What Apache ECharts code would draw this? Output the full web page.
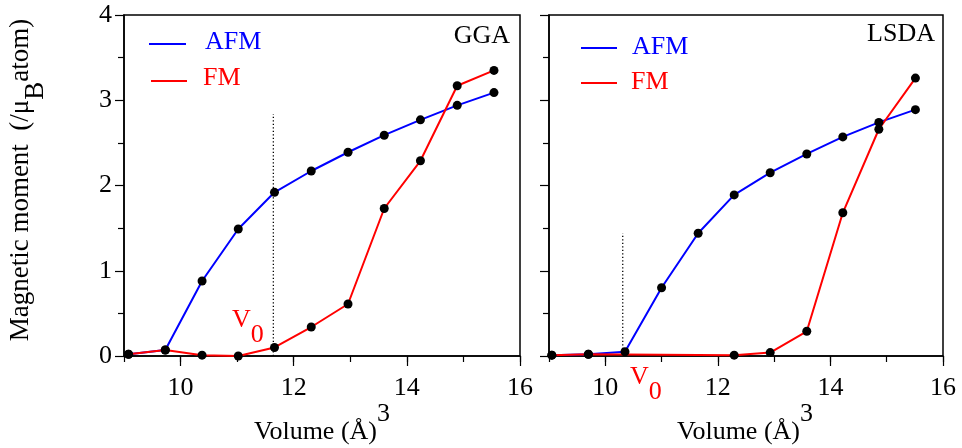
<!DOCTYPE html>
<html>
<head>
<meta charset="utf-8">
<script src="https://cdn.jsdelivr.net/npm/echarts@6/dist/echarts.min.js"></script>
<style>html,body{margin:0;padding:0;background:#fff;}#c{width:962px;height:448px;}</style>
</head>
<body>
<div id="c"></div>
<script>
// ---- data ----
const leftVolume  = [9.08, 9.73, 10.38, 11.02, 11.66, 12.31, 12.96, 13.60, 14.24, 14.89, 15.54];
const leftAFM     = [0.02, 0.07, 0.88, 1.49, 1.92, 2.17, 2.39, 2.59, 2.77, 2.94, 3.09];
const leftFM      = [0.02, 0.07, 0.01, 0.00, 0.10, 0.34, 0.61, 1.73, 2.29, 3.17, 3.35];
const rightVolume = [9.05, 9.70, 10.35, 11.00, 11.65, 12.29, 12.93, 13.58, 14.22, 14.86, 15.51];
const rightAFM    = [0.01, 0.02, 0.05, 0.80, 1.44, 1.89, 2.15, 2.37, 2.57, 2.74, 2.89];
const rightFM     = [0.01, 0.02, null, null, null, 0.01, 0.04, 0.29, 1.68, 2.66, 3.26];
const leftV0  = [11.64, 2.84];   // volume, top of dotted line
const rightV0 = [10.31, 1.44];
const xTickLabels = [10, 12, 14, 16];
const panelTitles = ['GGA', 'LSDA'];
const seriesNames = ['AFM', 'FM'];

const FONT = '"Liberation Serif", "Times New Roman", serif';
const BLUE = '#0000ff', RED = '#ff0000';

const pairs = (xs, ys) => xs.map((x, i) => [x, ys[i]]);

function xMain(g) {
  return {
    type: 'value', gridIndex: g, min: 9, max: 16, interval: 1, position: 'bottom',
    axisLine: { show: true, onZero: false, lineStyle: { color: '#000', width: 1.5 } },
    axisTick: { show: true, inside: false, length: 10, customValues: xTickLabels, lineStyle: { color: '#000', width: 1.2 } },
    axisLabel: { show: true, customValues: xTickLabels, margin: 19, fontSize: 26, fontFamily: FONT, color: '#000' },
    splitLine: { show: false }
  };
}
function xMinor(g) {
  return {
    type: 'value', gridIndex: g, min: 9, max: 16, interval: 1, position: 'bottom',
    axisLine: { show: false },
    axisTick: { show: true, inside: false, length: 6, lineStyle: { color: '#000', width: 1.2 } },
    axisLabel: { show: false },
    splitLine: { show: false }
  };
}
function yAx(g, labels) {
  return {
    type: 'value', gridIndex: g, min: 0, max: 4, interval: 1,
    axisLine: { show: true, onZero: false, lineStyle: { color: '#000', width: 1.5 } },
    axisTick: { show: true, inside: false, length: 9, lineStyle: { color: '#000', width: 1.2 } },
    minorTick: { show: true, splitNumber: 2, length: 6, lineStyle: { color: '#000', width: 1.2 } },
    axisLabel: { show: labels, margin: 12, fontSize: 26, fontFamily: FONT, color: '#000' },
    splitLine: { show: false }
  };
}
function dataSeries(name, xi, yi, data, color) {
  return {
    type: 'line', name: name, xAxisIndex: xi, yAxisIndex: yi, data: data,
    connectNulls: true, symbol: 'circle', symbolSize: 9, silent: true,
    lineStyle: { color: color, width: 2 }, itemStyle: { color: '#000' },
    emphasis: { disabled: true }, z: 3
  };
}
function v0Series(xi, yi, v) {
  return {
    type: 'line', xAxisIndex: xi, yAxisIndex: yi, data: [[v[0], 0], [v[0], v[1]]],
    symbol: 'none', silent: true, lineStyle: { color: '#000', width: 1.3, type: [1.3, 2.2] }, z: 2
  };
}
function txt(x, y, text, opts) {
  return { type: 'text', x: x, y: y, silent: true,
    style: Object.assign({ text: text, fontSize: 26, fontFamily: FONT, fill: '#000' }, opts || {}) };
}
function seg(x1, x2, y, color) {
  return { type: 'line', silent: true, shape: { x1: x1, y1: y, x2: x2, y2: y }, style: { stroke: color, lineWidth: 2 } };
}

const subRich = {
  n: { fontSize: 27, fontFamily: FONT, fill: '#000', lineHeight: 30, verticalAlign: 'top' },
  s: { fontSize: 27, fontFamily: FONT, fill: '#000', lineHeight: 42, verticalAlign: 'bottom' }
};
const supRich = {
  n: { fontSize: 26, fontFamily: FONT, fill: '#000', lineHeight: 30, verticalAlign: 'bottom' },
  s: { fontSize: 26, fontFamily: FONT, fill: '#000', lineHeight: 44, verticalAlign: 'top' }
};
const v0Rich = {
  v: { fontSize: 26, fontFamily: FONT, fill: RED, lineHeight: 28, verticalAlign: 'top' },
  s: { fontSize: 26, fontFamily: FONT, fill: RED, lineHeight: 41, verticalAlign: 'bottom' }
};

const yTitle = txt(28, 180, '{n|Magnetic moment  (/μ}{s|B}{n|atom)}', { rich: subRich, align: 'center', verticalAlign: 'middle' });
yTitle.rotation = Math.PI / 2;

const option = {
  animation: false,
  backgroundColor: '#fff',
  grid: [
    { left: 124, top: 15, width: 396, height: 341, show: true, borderColor: '#000', borderWidth: 1.5, backgroundColor: 'transparent' },
    { left: 549, top: 15, width: 394, height: 341, show: true, borderColor: '#000', borderWidth: 1.5, backgroundColor: 'transparent' }
  ],
  xAxis: [xMain(0), xMinor(0), xMain(1), xMinor(1)],
  yAxis: [yAx(0, true), yAx(1, false)],
  series: [
    v0Series(0, 0, leftV0),
    v0Series(2, 1, rightV0),
    dataSeries(seriesNames[0], 0, 0, pairs(leftVolume, leftAFM), BLUE),
    dataSeries(seriesNames[1], 0, 0, pairs(leftVolume, leftFM), RED),
    dataSeries(seriesNames[0], 2, 1, pairs(rightVolume, rightAFM), BLUE),
    dataSeries(seriesNames[1], 2, 1, pairs(rightVolume, rightFM), RED)
  ],
  graphic: [
    yTitle,
    txt(322, 401, '{n|Volume (Å)}{s|3}', { rich: supRich, align: 'center', verticalAlign: 'top' }),
    txt(745, 401, '{n|Volume (Å)}{s|3}', { rich: supRich, align: 'center', verticalAlign: 'top' }),
    txt(510, 36, panelTitles[0], { align: 'right', verticalAlign: 'middle' }),
    txt(935, 34, panelTitles[1], { align: 'right', verticalAlign: 'middle' }),
    seg(149, 186, 44, BLUE), txt(205, 42, seriesNames[0], { fill: BLUE, verticalAlign: 'middle' }),
    seg(151, 187, 81, RED),  txt(203, 78, seriesNames[1], { fill: RED, verticalAlign: 'middle' }),
    seg(581, 617, 48, BLUE), txt(632, 47, seriesNames[0], { fill: BLUE, verticalAlign: 'middle' }),
    seg(581, 617, 83, RED),  txt(631, 82, seriesNames[1], { fill: RED, verticalAlign: 'middle' }),
    txt(232, 307, '{v|V}{s|0}', { rich: v0Rich, verticalAlign: 'top' }),
    txt(630, 364, '{v|V}{s|0}', { rich: v0Rich, verticalAlign: 'top' })
  ]
};

const chart = echarts.init(document.getElementById('c'), null, { renderer: 'canvas' });
chart.setOption(option);
</script>
</body>
</html>
